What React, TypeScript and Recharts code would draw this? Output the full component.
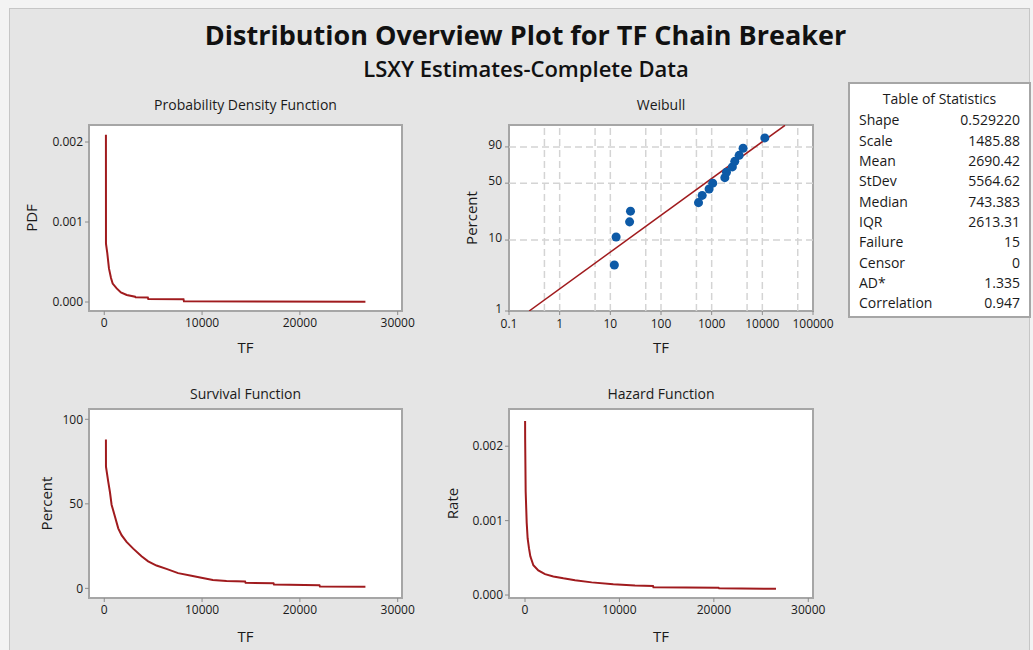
import React from 'react';
import { LineChart, ComposedChart, Line, Scatter, XAxis, YAxis, ReferenceLine } from 'recharts';

// probability density function curve
const pdfTF = [170, 175, 310, 480, 690, 860, 1270, 1700, 2300, 3150, 3200, 4450, 4500, 8100, 8150, 26700];
const pdfValue = [0.00209, 0.00073, 0.00061, 0.00042, 0.0003, 0.00023, 0.00017, 0.00012, 0.000088, 0.000066, 0.000058, 0.000055, 0.000038, 0.000035, 0.000008, 0.000004];

// survival function curve (percent surviving)
const survTF = [170, 175, 410, 580, 750, 1090, 1430, 1770, 2280, 2960, 3810, 4490, 5340, 6360, 7550, 8910, 9930, 11100, 12500, 14400, 14450, 17300, 17350, 22000, 22050, 26700];
const survPercent = [88, 72, 63, 57, 49.5, 42.5, 35.5, 31.5, 27.5, 23.5, 19, 16, 13.5, 11.5, 9, 7.5, 6.3, 5, 4.3, 4, 3.3, 3, 2.3, 1.8, 1.1, 0.9];

// hazard function curve
const hazTF = [10, 15, 70, 180, 280, 420, 565, 885, 1410, 2120, 3000, 4060, 5300, 7060, 9350, 11650, 13550, 13600, 20500, 20550, 26580];
const hazRate = [0.00234, 0.00211, 0.00139, 0.00097, 0.00076, 0.00063, 0.00052, 0.0004, 0.00033, 0.00028, 0.00025, 0.000225, 0.0002, 0.00017, 0.000145, 0.000128, 0.000122, 0.000105, 0.000098, 0.00009, 0.000083];

// Weibull probability plot: failure times with their plotting percents, and the LSXY fit line
const failTF = [12, 13, 24, 25, 550, 650, 890, 1050, 1820, 1960, 2560, 2860, 3490, 4170, 11200];
const failPercent = [4.5, 11, 17.5, 24, 30.5, 37, 43.5, 50, 56.5, 63, 69.5, 76, 82.5, 89, 95.5];
const fitTF = [0.25, 28000];
const fitPercent = [1, 99.1];

const linearTicks = [0, 10000, 20000, 30000];
const logTicks = [0.1, 1, 10, 100, 1000, 10000, 100000];
const logGrid = [0.5, 1, 5, 10, 50, 100, 500, 1000, 5000, 10000, 50000];
const percentTicks = [1, 10, 50, 90];
const percentGrid = [10, 50, 90];

const statNames = ['Shape', 'Scale', 'Mean', 'StDev', 'Median', 'IQR', 'Failure', 'Censor', 'AD*', 'Correlation'];
const statValues = ['0.529220', '1485.88', '2690.42', '5564.62', '743.383', '2613.31', '15', '0', '1.335', '0.947'];

const FONT = '"Open Sans", "Noto Sans", sans-serif';
const CURVE = '#a01b1e';
const DOT = '#0d5aa7';
const FRAME = '#a6a6a6';
const INK = '#1a1a1a';

// Weibull probability paper: y = ln(-ln(1 - p))
const wbl = (p: number) => Math.log(-Math.log(1 - p / 100));

const pdfData = pdfTF.map((tf, i) => ({ tf, v: pdfValue[i] }));
const survData = survTF.map((tf, i) => ({ tf, v: survPercent[i] }));
const hazData = hazTF.map((tf, i) => ({ tf, v: hazRate[i] }));
const failData = failTF.map((tf, i) => ({ tf, y: wbl(failPercent[i]) }));
const fitData = fitTF.map((tf, i) => ({ tf, y: wbl(fitPercent[i]) }));

const Y_W = 69;
const M_TOP = 10;

type Box = { left: number; top: number; width: number; height: number; right: number; xH: number };

const pdfBox: Box = { left: 20, top: 115, width: 400, height: 245, right: 18, xH: 49 };
const wblBox: Box = { left: 440, top: 115, width: 395, height: 245, right: 22, xH: 49 };
const survBox: Box = { left: 20, top: 399, width: 400, height: 251, right: 18, xH: 52 };
const hazBox: Box = { left: 440, top: 399, width: 395, height: 251, right: 22, xH: 52 };

const plotRect = (b: Box) => ({
  x: b.left + Y_W,
  y: b.top + M_TOP,
  w: b.width - Y_W - b.right,
  h: b.height - M_TOP - b.xH,
});

const tickStyle = { fill: INK, fontSize: 12, fontFamily: FONT };
const labelStyle = { fill: INK, fontSize: 15, fontFamily: FONT };
const tickLine = { stroke: '#8c8c8c' };

const yLabel = (value: string, offset: number) => ({
  value,
  angle: -90,
  position: 'insideLeft' as const,
  offset,
  style: { ...labelStyle, textAnchor: 'middle' as const },
});

const xLabel = (offset: number) => ({ value: 'TF', position: 'insideBottom' as const, offset, style: labelStyle });

const Frame = ({ box }: { box: Box }) => {
  const r = plotRect(box);
  return <rect x={r.x} y={r.y} width={r.w} height={r.h} fill="#fff" stroke={FRAME} strokeWidth={2} />;
};

const PanelTitle = ({ box, y, text }: { box: Box; y: number; text: string }) => {
  const r = plotRect(box);
  return (
    <text x={r.x + r.w / 2} y={y} textAnchor="middle" fontFamily={FONT} fontSize={14} fill={INK}>
      {text}
    </text>
  );
};

const place = (b: Box): React.CSSProperties => ({ position: 'absolute', left: b.left, top: b.top });

const CurveChart = ({
  box,
  data,
  xDomain,
  yDomain,
  yTicks,
  yFormat,
  yName,
  yOffset,
  xOffset,
}: {
  box: Box;
  data: { tf: number; v: number }[];
  xDomain: [number, number];
  yDomain: [number, number];
  yTicks: number[];
  yFormat: (v: number) => string;
  yName: string;
  yOffset: number;
  xOffset: number;
}) => (
  <div style={place(box)}>
    <LineChart
      width={box.width}
      height={box.height}
      data={data}
      margin={{ top: M_TOP, right: box.right, bottom: 0, left: 0 }}
    >
      <XAxis
        type="number"
        dataKey="tf"
        domain={xDomain}
        allowDataOverflow
        ticks={linearTicks}
        height={box.xH}
        axisLine={false}
        tickLine={tickLine}
        tickSize={4}
        tickMargin={3}
        tick={tickStyle}
        label={xLabel(xOffset)}
      />
      <YAxis
        type="number"
        dataKey="v"
        domain={yDomain}
        allowDataOverflow
        ticks={yTicks}
        tickFormatter={yFormat}
        width={Y_W}
        axisLine={false}
        tickLine={tickLine}
        tickSize={4}
        tickMargin={2}
        tick={tickStyle}
        label={yLabel(yName, yOffset)}
      />
      <Line type="linear" dataKey="v" stroke={CURVE} strokeWidth={2} dot={false} isAnimationActive={false} />
    </LineChart>
  </div>
);

const WeibullChart = () => (
  <div style={place(wblBox)}>
    <ComposedChart
      width={wblBox.width}
      height={wblBox.height}
      margin={{ top: M_TOP, right: wblBox.right, bottom: 0, left: 0 }}
    >
      <XAxis
        type="number"
        dataKey="tf"
        scale="log"
        domain={[0.1, 100000]}
        allowDataOverflow
        ticks={logTicks}
        tickFormatter={(v: number) => String(v)}
        height={wblBox.xH}
        axisLine={false}
        tickLine={tickLine}
        tickSize={4}
        tickMargin={4}
        tick={tickStyle}
        label={xLabel(7)}
      />
      <YAxis
        type="number"
        dataKey="y"
        domain={[wbl(1), 1.56]}
        allowDataOverflow
        ticks={percentTicks.map(wbl)}
        tickFormatter={(v: number) => String(percentTicks.find((p) => Math.abs(wbl(p) - v) < 1e-6) ?? '')}
        width={Y_W}
        axisLine={false}
        tickLine={tickLine}
        tickSize={4}
        tickMargin={3}
        tick={{ ...tickStyle, dy: -2 }}
        label={yLabel('Percent', 32)}
      />
      {logGrid.map((v) => (
        <ReferenceLine key={'x' + v} x={v} stroke="#d4d4d4" strokeWidth={1.5} strokeDasharray="7 4" />
      ))}
      {percentGrid.map((p) => (
        <ReferenceLine key={'y' + p} y={wbl(p)} stroke="#d4d4d4" strokeWidth={1.5} strokeDasharray="7 4" />
      ))}
      <Line data={fitData} type="linear" dataKey="y" stroke={CURVE} strokeWidth={1.5} dot={false} isAnimationActive={false} />
      <Scatter data={failData} dataKey="y" fill={DOT} isAnimationActive={false} />
    </ComposedChart>
  </div>
);

const StatsTable = () => (
  <g fontFamily={FONT} fontSize={14} fill={INK}>
    <rect x={849} y={83} width={181} height={234} fill="#fff" stroke={FRAME} strokeWidth={2} />
    <text x={939.5} y={104} textAnchor="middle">
      Table of Statistics
    </text>
    {statNames.map((name, i) => (
      <g key={name}>
        <text x={859} y={125.3 + i * 20.35}>
          {name}
        </text>
        <text x={1020} y={125.3 + i * 20.35} textAnchor="end">
          {statValues[i]}
        </text>
      </g>
    ))}
  </g>
);

export default function App() {
  return (
    <div style={{ position: 'absolute', left: 0, top: 0, width: 1033, height: 650, overflow: 'hidden' }}>
      <svg width={1033} height={650} style={{ position: 'absolute', left: 0, top: 0 }}>
        <rect x={0} y={0} width={1033} height={650} fill="#f3f3f3" />
        <rect x={9.5} y={8.5} width={1020} height={660} fill="#e5e5e5" stroke="#c6c6c6" strokeWidth={1} />
        <text x={525.5} y={45} textAnchor="middle" fontFamily={FONT} fontSize={27} fontWeight={700} fill="#111">
          Distribution Overview Plot for TF Chain Breaker
        </text>
        <text x={526} y={77} textAnchor="middle" fontFamily={FONT} fontSize={22} fontWeight={600} fill="#111">
          LSXY Estimates-Complete Data
        </text>
        <PanelTitle box={pdfBox} y={110} text="Probability Density Function" />
        <PanelTitle box={wblBox} y={110} text="Weibull" />
        <PanelTitle box={survBox} y={398.5} text="Survival Function" />
        <PanelTitle box={hazBox} y={398.5} text="Hazard Function" />
        <Frame box={pdfBox} />
        <Frame box={wblBox} />
        <Frame box={survBox} />
        <Frame box={hazBox} />
        <StatsTable />
      </svg>
      <CurveChart
        box={pdfBox}
        data={pdfData}
        xDomain={[-1560, 30440]}
        yDomain={[-0.0001125, 0.0022125]}
        yTicks={[0, 0.001, 0.002]}
        yFormat={(v) => v.toFixed(3)}
        yName="PDF"
        yOffset={12}
        xOffset={7}
      />
      <WeibullChart />
      <CurveChart
        box={survBox}
        data={survData}
        xDomain={[-1560, 30440]}
        yDomain={[-5.7, 106.1]}
        yTicks={[0, 50, 100]}
        yFormat={(v) => String(v)}
        yName="Percent"
        yOffset={27}
        xOffset={8}
      />
      <CurveChart
        box={hazBox}
        data={hazData}
        xDomain={[-1695, 30500]}
        yDomain={[-0.00004, 0.0025]}
        yTicks={[0, 0.001, 0.002]}
        yFormat={(v) => v.toFixed(3)}
        yName="Rate"
        yOffset={13}
        xOffset={8}
      />
    </div>
  );
}
